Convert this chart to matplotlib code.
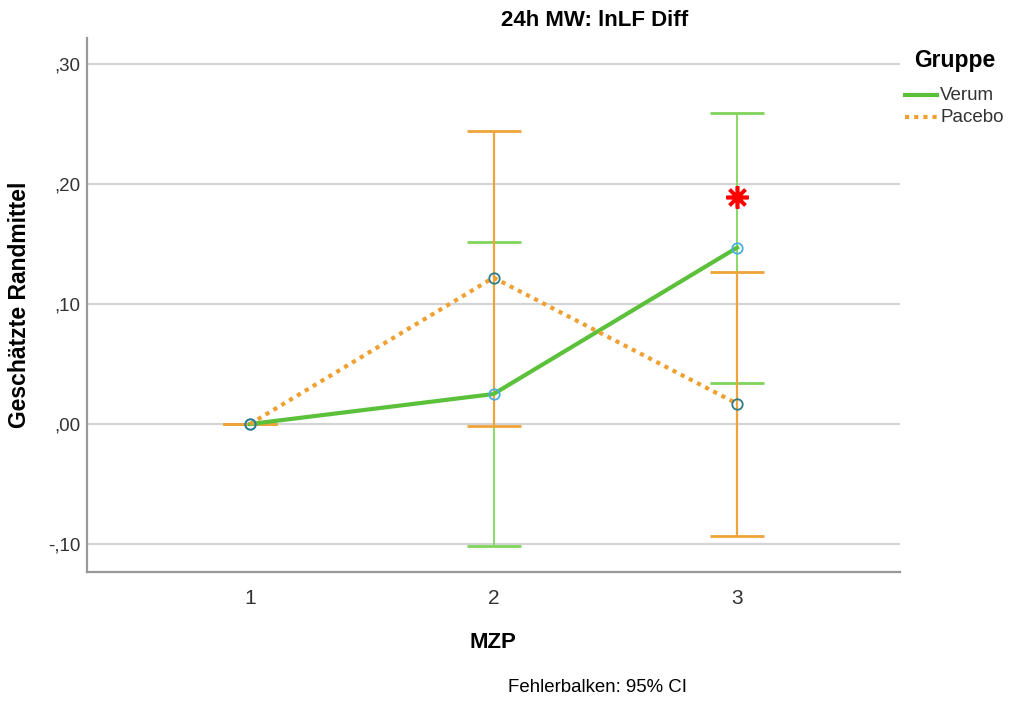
import numpy as np
import matplotlib.pyplot as plt
from matplotlib.lines import Line2D

plt.rcParams['font.family'] = ['Liberation Sans', 'DejaVu Sans']

# Data
mzp = [1, 2, 3]
verum = [0.000, 0.025, 0.147]
verum_lo = [0.000, -0.102, 0.034]
verum_hi = [0.000, 0.152, 0.259]
placebo = [0.000, 0.122, 0.017]
placebo_lo = [0.000, -0.002, -0.093]
placebo_hi = [0.000, 0.244, 0.127]
sig_x = [3]
sig_y = [0.189]
yticks = [-0.10, 0.00, 0.10, 0.20, 0.30]
ylabels = ["-,10", ",00", ",10", ",20", ",30"]

green = "#5cc13a"
green_eb = "#7fd45c"
orange = "#f0a030"
orange_eb = "#eea43a"

fig = plt.figure(figsize=(10.10, 7.01), dpi=100)
ax = fig.add_axes([87/1010, 1 - 572/701, (900-87)/1010, (572-38)/701])

for y in yticks:
    ax.axhline(y, color="#d4d4d4", lw=1.6, zorder=0)

v = np.array(verum)
p = np.array(placebo)
ax.errorbar(mzp, verum, yerr=[v - np.array(verum_lo), np.array(verum_hi) - v],
            fmt='none', ecolor=green_eb, elinewidth=1.3, capsize=19.5, capthick=2, zorder=2)
ax.errorbar(mzp, placebo, yerr=[p - np.array(placebo_lo), np.array(placebo_hi) - p],
            fmt='none', ecolor=orange_eb, elinewidth=1.6, capsize=19.5, capthick=2, zorder=3)

ax.plot(mzp, verum, color=green, lw=3, zorder=4)
ax.plot(mzp, placebo, color=orange, lw=3, ls=(0, (1, 1.2)), zorder=4)
ax.plot(mzp, verum, 'o', mfc='none', mec="#4aaee6", ms=7.5, mew=1.3, zorder=5)
ax.plot(mzp, placebo, 'o', mfc='none', mec="#2e7b8a", ms=7.5, mew=1.3, zorder=5)

ax.plot(sig_x, sig_y, marker=(8, 2, 0), color="red", ms=16, mew=2.6, ls='none', zorder=6)

ax.set_xlim(0.331, 3.669)
ax.set_ylim(-0.1233, 0.3217)
ax.set_xticks(mzp)
ax.set_xticklabels(["1", "2", "3"], fontsize=15, color="#333333")
ax.set_yticks(yticks)
ax.set_yticklabels(ylabels, fontsize=13.5, color="#333333")
ax.tick_params(axis='y', length=0, pad=5)
ax.tick_params(axis='x', length=0, pad=12)
for s in ["top", "right"]:
    ax.spines[s].set_visible(False)
for s in ["left", "bottom"]:
    ax.spines[s].set_color("#999999")
    ax.spines[s].set_linewidth(1.6)

fig.text(595/1010, 1 - 20/701, "24h MW: lnLF Diff", ha='center', va='center',
         fontsize=16, fontweight='bold')
fig.text(20/1010, 1 - 305/701, "Geschätzte Randmittel", rotation=90, ha='center',
         va='center', fontsize=16.5, fontweight='bold')
fig.text(493/1010, 1 - 642/701, "MZP", ha='center', va='center', fontsize=16,
         fontweight='bold')
fig.text(598/1010, 1 - 688/701, "Fehlerbalken: 95% CI", ha='center', va='center',
         fontsize=13.4)

# legend drawn by hand to match the spacing
fig.text(955/1010, 1 - 60/701, "Gruppe", ha='center', va='center', fontsize=16.5,
         fontweight='bold')
fig.add_artist(Line2D([905/1010, 937/1010], [1 - 95/701, 1 - 95/701], color=green, lw=3))
fig.add_artist(Line2D([905/1010, 937/1010], [1 - 117/701, 1 - 117/701], color=orange, lw=3,
                      ls=(0, (1, 1.2))))
fig.text(940/1010, 1 - 95/701, "Verum", ha='left', va='center', fontsize=13.5, color="#333333")
fig.text(940/1010, 1 - 117/701, "Pacebo", ha='left', va='center', fontsize=13.5, color="#333333")

fig.savefig("out.png", dpi=100)
